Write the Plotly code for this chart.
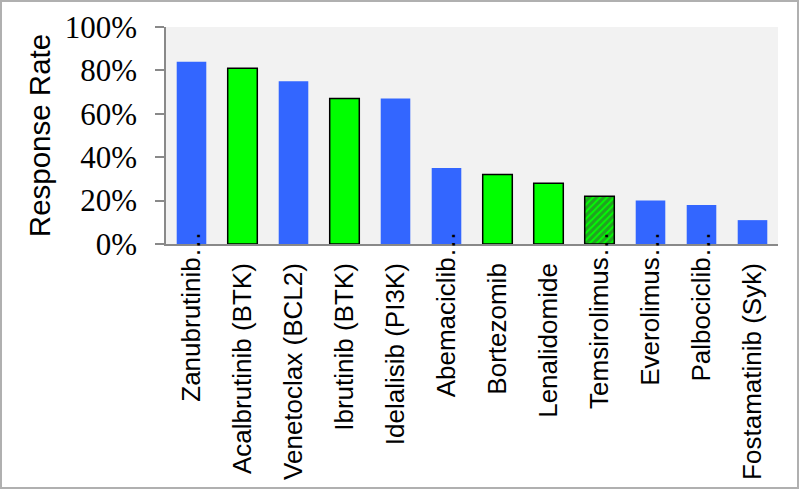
import plotly.graph_objects as go

# ---- data ----
drug_labels = ["Zanubrutinib…", "Acalbrutinib (BTK)", "Venetoclax (BCL2)", "Ibrutinib (BTK)",
               "Idelalisib (PI3K)", "Abemaciclib…", "Bortezomib", "Lenalidomide",
               "Temsirolimus…", "Everolimus…", "Palbociclib…", "Fostamatinib (Syk)"]
response_rate = [84, 81, 75, 67, 67, 35, 32, 28, 22, 20, 18, 11]
green_group = [False, True, False, True, False, False, True, True, True, False, False, False]
hatched_group = [False, False, False, False, False, False, False, False, True, False, False, False]
y_ticks = [0, 20, 40, 60, 80, 100]
y_tick_labels = ["0%", "20%", "40%", "60%", "80%", "100%"]

# ---- styling ----
BLUE = "#3366FF"
GREEN = "#00FF00"
AXIS = "#898989"
W, H = 800, 491
ML, MR, MT, MB = 166, 22, 27, 247
LABEL_STANDOFF = 7

n = len(drug_labels)
xs = list(range(n))
colors = [GREEN if g else BLUE for g in green_group]
line_w = [1.5 if g else 0 for g in green_group]
shapes_p = ["/" if h else "" for h in hatched_group]
truncated = [lbl.endswith("…") for lbl in drug_labels]

fig = go.Figure()
fig.add_trace(go.Bar(
    x=xs, y=response_rate, width=0.58,
    marker=dict(color=colors, line=dict(color="black", width=line_w),
                pattern=dict(shape=shapes_p, fgcolor="black", size=5, solidity=0.65,
                             fillmode="overlay")),
    showlegend=False, hoverinfo="skip",
))
# empty helper trace so the second (label) axis gets drawn
fig.add_trace(go.Scatter(x=[None], y=[None], xaxis="x2", yaxis="y",
                         showlegend=False, hoverinfo="skip"))

label_font = dict(family="Liberation Sans, Arial, sans-serif", size=26, color="black")
fig.update_layout(
    width=W, height=H,
    margin=dict(l=ML, r=MR, t=MT, b=MB, pad=0),
    paper_bgcolor="white", plot_bgcolor="#F2F2F2",
    xaxis=dict(range=[-0.5, n - 0.5], showgrid=False, zeroline=False, automargin=False,
               showline=True, linecolor=AXIS, linewidth=1.5, ticks="",
               tickmode="array",
               tickvals=[x for x, t in zip(xs, truncated) if not t],
               ticktext=[l for l, t in zip(drug_labels, truncated) if not t],
               tickangle=-90, tickfont=label_font, ticklabelstandoff=LABEL_STANDOFF),
    xaxis2=dict(range=[-0.5, n - 0.5], overlaying="x", anchor="y", side="bottom",
                showgrid=False, zeroline=False, showline=False, ticks="", automargin=False,
                tickmode="array",
                tickvals=[x for x, t in zip(xs, truncated) if t],
                ticktext=[l for l, t in zip(drug_labels, truncated) if t],
                tickangle=-90, tickfont=label_font, ticklabelstandoff=LABEL_STANDOFF - 26),
    yaxis=dict(range=[0, 100], tickmode="array", tickvals=y_ticks, ticktext=y_tick_labels,
               showgrid=False, zeroline=False, showline=True, linecolor=AXIS, automargin=False,
               linewidth=1.5, ticks="outside", ticklen=9, tickcolor=AXIS, tickwidth=1.5,
               tickfont=dict(family="Liberation Serif, Times New Roman, serif", size=31,
                             color="black"),
               ticklabelstandoff=12,
               title=dict(text="Response Rate", standoff=5,
                          font=dict(family="Liberation Sans, Arial, sans-serif", size=29.5,
                                    color="black"))),
)

# outer frame around the whole chart
pw = W - ML - MR
ph = H - MT - MB
fig.add_shape(type="rect", xref="paper", yref="paper",
              x0=(1 - ML) / pw, x1=(W - 2 - ML) / pw,
              y0=(MT + ph - (H - 3)) / ph, y1=(MT + ph - 1) / ph,
              line=dict(color="#B0B0B0", width=2), layer="below")

fig.write_html("out.html", config={"displayModeBar": False},
               post_script="document.body.style.margin='0';document.body.style.overflow='hidden';")
